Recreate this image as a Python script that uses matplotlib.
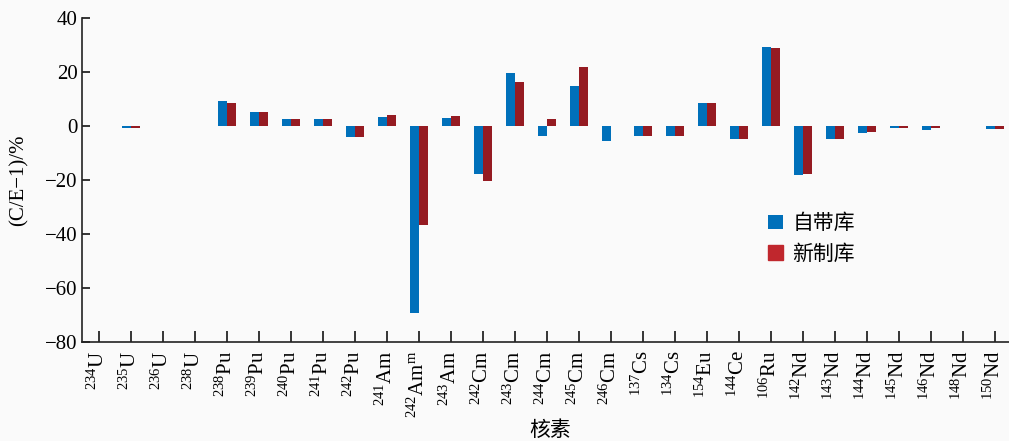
import numpy as np
import matplotlib.pyplot as plt

plt.rcParams['font.family'] = ['Liberation Serif', 'Noto Sans CJK SC']
plt.rcParams['mathtext.fontset'] = 'custom'
plt.rcParams['mathtext.rm'] = 'Liberation Serif'
plt.rcParams['mathtext.it'] = 'Liberation Serif:italic'

# nuclide labels (mass number, element)
mass = ['234', '235', '236', '238', '238', '239', '240', '241', '242',
        '241', '242', '243', '242', '243', '244', '245', '246',
        '137', '134', '154', '144', '106',
        '142', '143', '144', '145', '146', '148', '150']
element = ['U', 'U', 'U', 'U', 'Pu', 'Pu', 'Pu', 'Pu', 'Pu',
           'Am', 'Am$^{\\rm m}$', 'Am', 'Cm', 'Cm', 'Cm', 'Cm', 'Cm',
           'Cs', 'Cs', 'Eu', 'Ce', 'Ru',
           'Nd', 'Nd', 'Nd', 'Nd', 'Nd', 'Nd', 'Nd']

# (C/E-1) in %
builtin_lib = [0, -0.9, 0, 0, 9.1, 5.2, 2.7, 2.7, -4.2,
               3.4, -69.1, 3.1, -17.9, 19.7, -3.6, 14.9, -5.7,
               -3.5, -3.8, 8.6, -4.8, 29.3,
               -18.3, -4.8, -2.6, -0.9, -1.5, 0, -1.1]
new_lib = [0, -0.9, 0, 0, 8.5, 5.2, 2.7, 2.7, -4.2,
           4.0, -36.6, 3.8, -20.5, 16.4, 2.7, 21.7, 0,
           -3.8, -3.8, 8.6, -4.8, 29.1,
           -17.9, -4.8, -2.3, -0.9, -0.8, 0, -1.2]

labels = ['$^{%s}$%s' % (m, e) for m, e in zip(mass, element)]
x = np.arange(len(labels))
w = 0.28

fig = plt.figure(figsize=(10.09, 4.41), dpi=100, facecolor='#fafafa')
ax = fig.add_axes([0.0813, 0.2245, 0.9187, 0.7345])
ax.set_facecolor('#fafafa')

ax.bar(x - w / 2, builtin_lib, w, color='#0070ba', label='自带库')
ax.bar(x + w / 2, new_lib, w, color='#951b22', label='新制库')

ax.set_xlim(-0.52, 28.45)
ax.set_ylim(-80, 40)
ax.set_yticks(np.arange(-80, 41, 20))
ax.set_yticklabels([str(v).replace('-', '−') for v in range(-80, 41, 20)])
ax.set_xticks(x)
ax.set_xticklabels(labels, rotation=90, fontsize=15)

for s in ['top', 'right']:
    ax.spines[s].set_visible(False)
for s in ['left', 'bottom']:
    ax.spines[s].set_linewidth(1.2)
    ax.spines[s].set_color('#222222')
ax.tick_params(axis='y', direction='in', length=6, width=1.1, labelsize=15, pad=3)
ax.tick_params(axis='x', direction='in', length=8, width=1.1, pad=6)

ax.set_ylabel('(C/E−1)/%', fontsize=15)
ax.yaxis.set_label_coords(-0.058, 0.5)
ax.set_xlabel('核素', fontsize=15, family='Noto Sans CJK SC', va='center')
ax.xaxis.set_label_coords(0.505, -0.272)

h, l = ax.get_legend_handles_labels()
h[1] = plt.Rectangle((0, 0), 1, 1, color='#c0272d')
ax.legend(h, l, loc='center left', bbox_to_anchor=(0.72, 0.32), frameon=False,
          prop={'family': 'Noto Sans CJK SC', 'size': 15},
          handlelength=0.7, handleheight=0.7, handletextpad=0.45, labelspacing=0.4)

plt.savefig('out.png', dpi=100, facecolor=fig.get_facecolor())
